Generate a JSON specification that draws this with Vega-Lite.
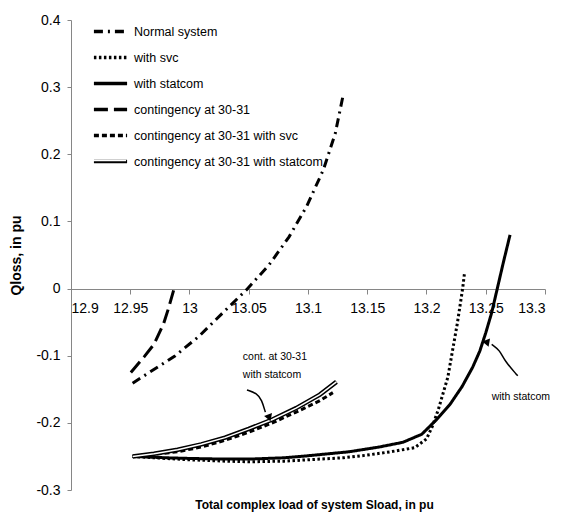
{
  "$schema": "https://vega.github.io/schema/vega-lite/v6.json",
  "width": 474,
  "height": 470,
  "autosize": {"type": "none"},
  "padding": {"left": 71, "top": 20, "right": 32, "bottom": 26},
  "background": "white",
  "config": {
    "view": {"stroke": null},
    "font": "Liberation Sans",
    "axis": {"grid": false, "domainColor": "#868686", "tickColor": "#868686", "labelColor": "black", "labelFont": "Liberation Sans", "labelFontSize": 14, "titleFont": "Liberation Sans", "titleFontWeight": "bold", "titleColor": "black"}
  },
  "datasets": {
    "curves": [
      {"s": "Normal system", "x": 12.952, "y": -0.141},
      {"s": "Normal system", "x": 12.966, "y": -0.125},
      {"s": "Normal system", "x": 12.988, "y": -0.100},
      {"s": "Normal system", "x": 13.008, "y": -0.071},
      {"s": "Normal system", "x": 13.027, "y": -0.038},
      {"s": "Normal system", "x": 13.048, "y": -0.002},
      {"s": "Normal system", "x": 13.067, "y": 0.035},
      {"s": "Normal system", "x": 13.084, "y": 0.077},
      {"s": "Normal system", "x": 13.099, "y": 0.123},
      {"s": "Normal system", "x": 13.113, "y": 0.177},
      {"s": "Normal system", "x": 13.123, "y": 0.231},
      {"s": "Normal system", "x": 13.130, "y": 0.291},
      {"s": "with svc", "x": 12.952, "y": -0.250},
      {"s": "with svc", "x": 12.98, "y": -0.253},
      {"s": "with svc", "x": 13.0, "y": -0.255},
      {"s": "with svc", "x": 13.03, "y": -0.257},
      {"s": "with svc", "x": 13.05, "y": -0.258},
      {"s": "with svc", "x": 13.08, "y": -0.257},
      {"s": "with svc", "x": 13.1, "y": -0.255},
      {"s": "with svc", "x": 13.13, "y": -0.252},
      {"s": "with svc", "x": 13.15, "y": -0.248},
      {"s": "with svc", "x": 13.17, "y": -0.243},
      {"s": "with svc", "x": 13.19, "y": -0.237},
      {"s": "with svc", "x": 13.2, "y": -0.224},
      {"s": "with svc", "x": 13.205, "y": -0.205},
      {"s": "with svc", "x": 13.21, "y": -0.180},
      {"s": "with svc", "x": 13.218, "y": -0.132},
      {"s": "with svc", "x": 13.226, "y": -0.052},
      {"s": "with svc", "x": 13.2305, "y": 0.0},
      {"s": "with svc", "x": 13.232, "y": 0.022},
      {"s": "with statcom", "x": 12.952, "y": -0.250},
      {"s": "with statcom", "x": 12.98, "y": -0.252},
      {"s": "with statcom", "x": 13.0, "y": -0.253},
      {"s": "with statcom", "x": 13.03, "y": -0.254},
      {"s": "with statcom", "x": 13.05, "y": -0.254},
      {"s": "with statcom", "x": 13.08, "y": -0.252},
      {"s": "with statcom", "x": 13.1, "y": -0.249},
      {"s": "with statcom", "x": 13.135, "y": -0.243},
      {"s": "with statcom", "x": 13.16, "y": -0.236},
      {"s": "with statcom", "x": 13.18, "y": -0.229},
      {"s": "with statcom", "x": 13.196, "y": -0.217},
      {"s": "with statcom", "x": 13.208, "y": -0.196},
      {"s": "with statcom", "x": 13.22, "y": -0.172},
      {"s": "with statcom", "x": 13.23, "y": -0.146},
      {"s": "with statcom", "x": 13.239, "y": -0.117},
      {"s": "with statcom", "x": 13.245, "y": -0.093},
      {"s": "with statcom", "x": 13.25, "y": -0.066},
      {"s": "with statcom", "x": 13.255, "y": -0.036},
      {"s": "with statcom", "x": 13.26, "y": 0.002},
      {"s": "with statcom", "x": 13.265, "y": 0.040},
      {"s": "with statcom", "x": 13.2705, "y": 0.080},
      {"s": "contingency at 30-31", "x": 12.9505, "y": -0.125},
      {"s": "contingency at 30-31", "x": 12.962, "y": -0.101},
      {"s": "contingency at 30-31", "x": 12.970, "y": -0.083},
      {"s": "contingency at 30-31", "x": 12.978, "y": -0.053},
      {"s": "contingency at 30-31", "x": 12.982, "y": -0.031},
      {"s": "contingency at 30-31", "x": 12.988, "y": 0.006},
      {"s": "contingency at 30-31 with svc", "x": 12.952, "y": -0.250},
      {"s": "contingency at 30-31 with svc", "x": 12.97, "y": -0.247},
      {"s": "contingency at 30-31 with svc", "x": 12.99, "y": -0.243},
      {"s": "contingency at 30-31 with svc", "x": 13.01, "y": -0.236},
      {"s": "contingency at 30-31 with svc", "x": 13.03, "y": -0.226},
      {"s": "contingency at 30-31 with svc", "x": 13.05, "y": -0.214},
      {"s": "contingency at 30-31 with svc", "x": 13.07, "y": -0.200},
      {"s": "contingency at 30-31 with svc", "x": 13.09, "y": -0.184},
      {"s": "contingency at 30-31 with svc", "x": 13.11, "y": -0.167},
      {"s": "contingency at 30-31 with svc", "x": 13.121, "y": -0.155},
      {"s": "contingency at 30-31 with statcom", "x": 12.952, "y": -0.250},
      {"s": "contingency at 30-31 with statcom", "x": 12.97, "y": -0.246},
      {"s": "contingency at 30-31 with statcom", "x": 12.99, "y": -0.240},
      {"s": "contingency at 30-31 with statcom", "x": 13.01, "y": -0.232},
      {"s": "contingency at 30-31 with statcom", "x": 13.03, "y": -0.222},
      {"s": "contingency at 30-31 with statcom", "x": 13.05, "y": -0.209},
      {"s": "contingency at 30-31 with statcom", "x": 13.07, "y": -0.195},
      {"s": "contingency at 30-31 with statcom", "x": 13.09, "y": -0.178},
      {"s": "contingency at 30-31 with statcom", "x": 13.11, "y": -0.158},
      {"s": "contingency at 30-31 with statcom", "x": 13.124, "y": -0.139}
    ],
    "arrows": [
      {"a": "left", "o": 1, "x": 13.0485, "y": -0.151},
      {"a": "left", "o": 2, "x": 13.057, "y": -0.156},
      {"a": "left", "o": 3, "x": 13.061, "y": -0.166},
      {"a": "left", "o": 4, "x": 13.064, "y": -0.184},
      {"a": "right", "o": 1, "x": 13.277, "y": -0.130},
      {"a": "right", "o": 2, "x": 13.266, "y": -0.108},
      {"a": "right", "o": 3, "x": 13.262, "y": -0.092},
      {"a": "right", "o": 4, "x": 13.255, "y": -0.083}
    ],
    "heads": [
      {"a": "left", "x": 13.067, "y": -0.191, "ang": 160},
      {"a": "right", "x": 13.251, "y": -0.080, "ang": 280}
    ],
    "notes": [
      {"t": "cont. at 30-31", "x": 13.045, "y": -0.102},
      {"t": "with statcom", "x": 13.045, "y": -0.129},
      {"t": "with statcom", "x": 13.255, "y": -0.161}
    ]
  },
  "layer": [
    {
      "data": {"name": "curves"},
      "mark": {"type": "line", "color": "black", "strokeWidth": 3, "strokeCap": "butt"},
      "encoding": {
        "x": {"field": "x", "type": "quantitative", "scale": {"domain": [12.9, 13.3], "nice": false, "zero": false},
              "axis": {"values": [12.9, 12.95, 13.0, 13.05, 13.1, 13.15, 13.2, 13.25, 13.3], "format": "~g", "offset": -201, "tickSize": 5, "labelPadding": 7, "title": "Total complex load of system  Sload, in pu", "titleFontSize": 12, "titleX": 243, "titleY": 215, "titleBaseline": "middle", "titleAnchor": "middle", "titleAlign": "center"}},
        "y": {"field": "y", "type": "quantitative", "scale": {"domain": [-0.3, 0.4], "nice": false, "zero": false},
              "axis": {"values": [-0.3, -0.2, -0.1, 0, 0.1, 0.2, 0.3, 0.4], "format": "~g", "labelExpr": "replace(datum.label, '\u2212', '-')", "tickSize": 4, "labelPadding": 7, "title": "Qloss, in pu", "titleFontSize": 14, "titleX": -55, "titleAngle": -90, "titleBaseline": "middle", "titleAlign": "center"}},
        "strokeDash": {"field": "s", "type": "nominal",
          "scale": {"domain": ["Normal system", "with svc", "with statcom", "contingency at 30-31", "contingency at 30-31 with svc", "contingency at 30-31 with statcom"],
                    "range": [[9, 5, 2, 5], [2.5, 2.5], [1, 0], [14, 6], [5, 3], [1, 0]]},
          "legend": {"title": null, "orient": "none", "legendX": 21, "legendY": -7, "symbolType": "stroke", "symbolSize": 1100, "symbolStrokeWidth": 3.5, "symbolStrokeColor": "black", "labelFont": "Liberation Sans", "labelFontSize": 12.5, "labelColor": "black", "labelOffset": 5, "labelLimit": 400, "rowPadding": -8, "padding": 0, "zindex": 1}},
        "order": {"field": "x", "type": "quantitative"}
      }
    },
    {
      "data": {"name": "curves"},
      "transform": [{"filter": "datum.s === 'contingency at 30-31 with statcom'"}],
      "mark": {"type": "line", "color": "black", "strokeWidth": 4.5},
      "encoding": {"x": {"field": "x", "type": "quantitative"}, "y": {"field": "y", "type": "quantitative"}}
    },
    {
      "data": {"name": "curves"},
      "transform": [{"filter": "datum.s === 'contingency at 30-31 with statcom'"}],
      "mark": {"type": "line", "strokeWidth": 1.5},
      "encoding": {
        "x": {"field": "x", "type": "quantitative"},
        "y": {"field": "y", "type": "quantitative"},
        "color": {"field": "s", "type": "nominal", "scale": {"domain": ["contingency at 30-31 with statcom"], "range": ["white"]},
          "legend": {"title": null, "orient": "none", "legendX": 21, "legendY": 123, "symbolType": "stroke", "symbolSize": 1100, "symbolStrokeWidth": 1.3, "labelExpr": "''", "labelFontSize": 12.5, "padding": 0, "zindex": 2}}
      }
    },
    {
      "data": {"name": "arrows"},
      "mark": {"type": "line", "color": "black", "strokeWidth": 1.5, "interpolate": "basis"},
      "encoding": {"x": {"field": "x", "type": "quantitative"}, "y": {"field": "y", "type": "quantitative"}, "detail": {"field": "a"}, "order": {"field": "o", "type": "quantitative"}}
    },
    {
      "data": {"name": "heads"},
      "mark": {"type": "point", "shape": "triangle", "filled": true, "color": "black", "size": 70, "opacity": 1},
      "encoding": {"x": {"field": "x", "type": "quantitative"}, "y": {"field": "y", "type": "quantitative"}, "angle": {"field": "ang", "type": "quantitative", "scale": null}}
    },
    {
      "data": {"name": "notes"},
      "mark": {"type": "text", "align": "left", "baseline": "middle", "font": "Liberation Sans", "fontSize": 10.5, "color": "black"},
      "encoding": {"x": {"field": "x", "type": "quantitative"}, "y": {"field": "y", "type": "quantitative"}, "text": {"field": "t"}}
    }
  ]
}
